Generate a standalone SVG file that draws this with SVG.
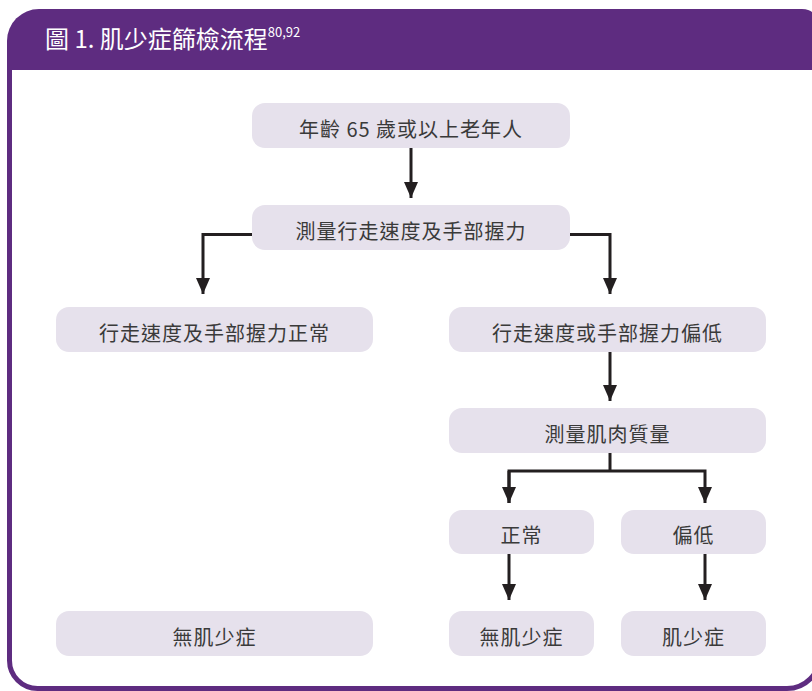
<svg xmlns="http://www.w3.org/2000/svg" width="812" height="691" viewBox="0 0 812 691">
  <style>
    .box { fill: #e6e1ec; }
    .lbl { font-family: "Noto Sans CJK TC", "Noto Sans", "Liberation Sans", sans-serif; font-size: 20px; fill: #3a3a3a; text-anchor: middle; letter-spacing: 1px; }
    .conn { fill: none; stroke: #231f20; stroke-width: 3; }
    .title { font-family: "Noto Sans CJK TC", "Noto Sans", "Liberation Sans", sans-serif; fill: #ffffff; }
  </style>
  <defs>
    <marker id="arr" viewBox="0 0 16 14" refX="16" refY="7" markerWidth="16" markerHeight="14" markerUnits="userSpaceOnUse" orient="auto">
      <path d="M0,0 L16,7 L0,14 Z" fill="#231f20"/>
    </marker>
  </defs>
  <rect x="0" y="0" width="812" height="691" fill="#ffffff"/>
  <g id="frame">
    <path d="M9.5,69 L9.5,660.5 A28,28 0 0 0 37.5,688.5 L787,688.5 A33,33 0 0 0 820,655.5 L820,69" fill="none" stroke="#5e2c80" stroke-width="5"/>
    <path d="M7,70 L7,41 A32,32 0 0 1 39,9 L802,9 A18,18 0 0 1 820,27 L820,70 Z" fill="#5e2c80"/>
    <text class="title" x="45" y="48" font-size="24">圖 1. 肌少症篩檢流程<tspan font-size="13" dy="-11">80,92</tspan></text>
  </g>
  <g id="connectors">
    <path class="conn" d="M411,148 L411,198" marker-end="url(#arr)"/>
    <path class="conn" d="M252,234.5 L203,234.5 L203,294" marker-end="url(#arr)"/>
    <path class="conn" d="M570,234.5 L610,234.5 L610,294" marker-end="url(#arr)"/>
    <path class="conn" d="M610,352 L610,401" marker-end="url(#arr)"/>
    <path class="conn" d="M610,453 L610,471"/>
    <path class="conn" d="M509,503 L509,471 L705,471 L705,503" marker-end="url(#arr)"/>
    <path class="conn" d="M509,471 L509,503" marker-end="url(#arr)"/>
    <path class="conn" d="M509,554 L509,600" marker-end="url(#arr)"/>
    <path class="conn" d="M705,554 L705,600" marker-end="url(#arr)"/>
  </g>
  <g id="n1"><rect class="box" x="252" y="103" width="318" height="45" rx="13"/><text class="lbl" x="411" y="137">年齡 65 歲或以上老年人</text></g>
  <g id="n2"><rect class="box" x="252" y="205" width="318" height="45" rx="13"/><text class="lbl" x="411" y="239">測量行走速度及手部握力</text></g>
  <g id="n3"><rect class="box" x="56" y="307" width="317" height="45" rx="13"/><text class="lbl" x="214.5" y="341">行走速度及手部握力正常</text></g>
  <g id="n4"><rect class="box" x="449" y="307" width="317" height="45" rx="13"/><text class="lbl" x="607.5" y="341">行走速度或手部握力偏低</text></g>
  <g id="n5"><rect class="box" x="449" y="408" width="317" height="45" rx="13"/><text class="lbl" x="607.5" y="442">測量肌肉質量</text></g>
  <g id="n6"><rect class="box" x="449" y="510" width="145" height="44" rx="13"/><text class="lbl" x="521.5" y="543">正常</text></g>
  <g id="n7"><rect class="box" x="621" y="510" width="145" height="44" rx="13"/><text class="lbl" x="693.5" y="543">偏低</text></g>
  <g id="n8"><rect class="box" x="449" y="611" width="145" height="45" rx="13"/><text class="lbl" x="521.5" y="645">無肌少症</text></g>
  <g id="n9"><rect class="box" x="621" y="611" width="145" height="45" rx="13"/><text class="lbl" x="693.5" y="645">肌少症</text></g>
  <g id="n10"><rect class="box" x="56" y="611" width="317" height="45" rx="13"/><text class="lbl" x="214.5" y="645">無肌少症</text></g>
</svg>
